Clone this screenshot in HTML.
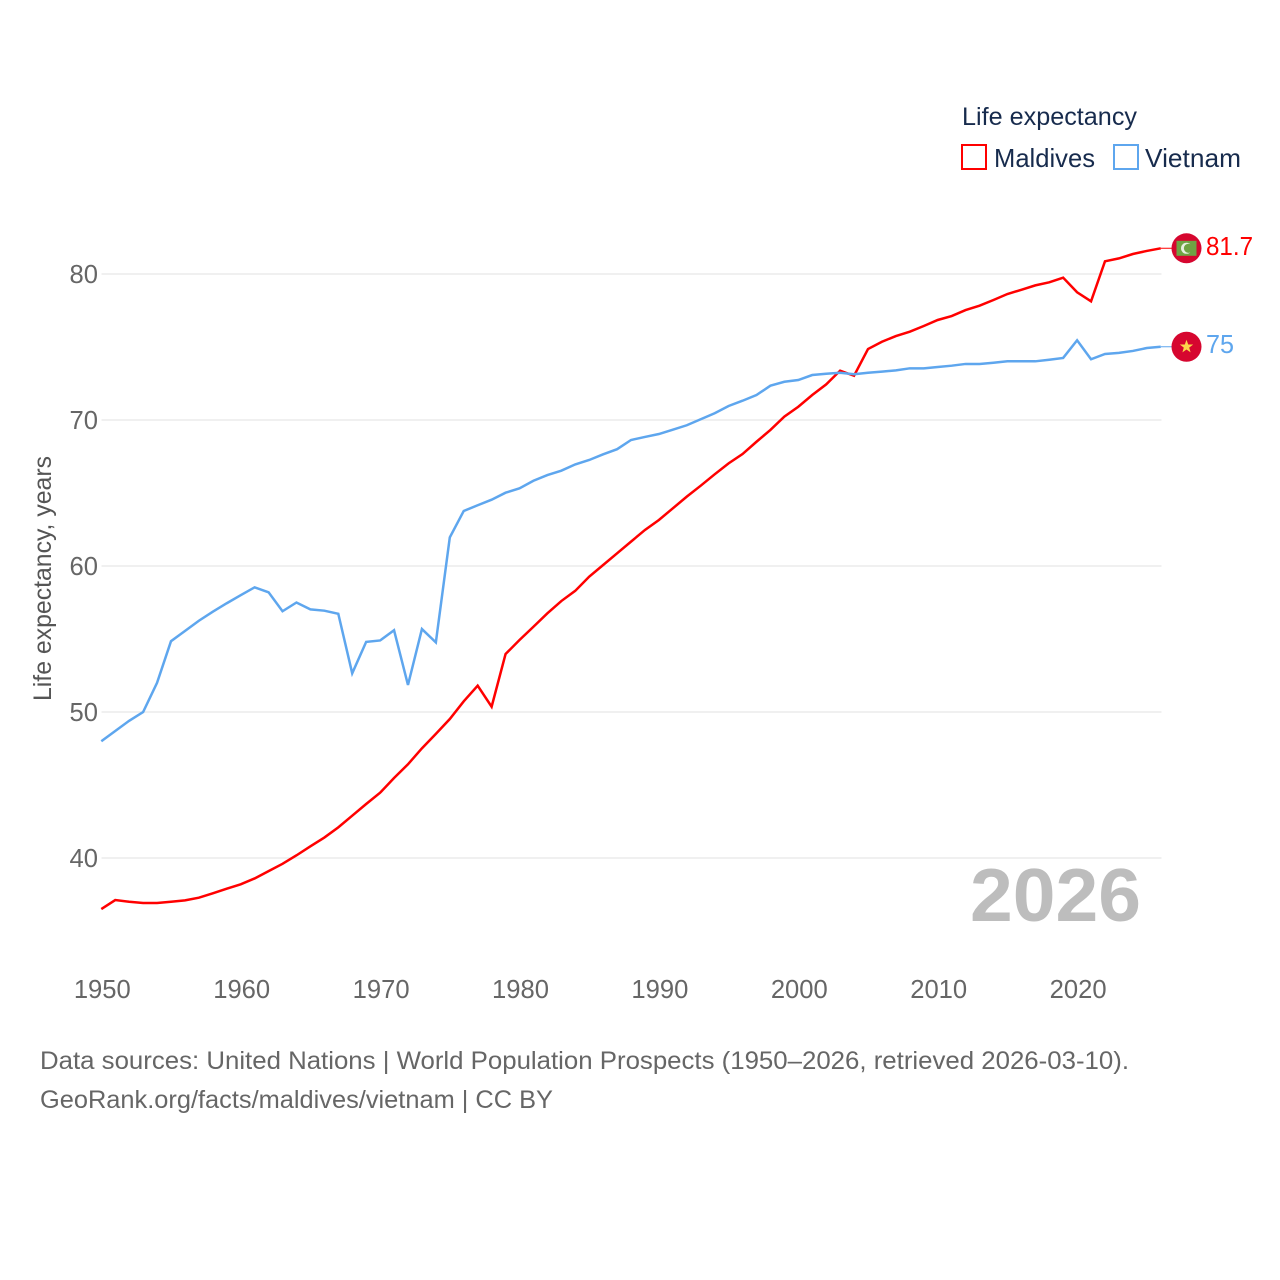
<!DOCTYPE html>
<html lang="en">
<head>
<meta charset="utf-8">
<title>Life expectancy: Maldives vs Vietnam</title>
<style>
html,body{margin:0;padding:0;background:#fff;}
svg{display:block;}
text{font-family:"Liberation Sans",sans-serif;}
</style>
</head>
<body>
<svg id="chart" xmlns="http://www.w3.org/2000/svg" width="1280" height="1280" viewBox="0 0 1280 1280">
  <rect x="0" y="0" width="1280" height="1280" fill="#ffffff"/>
  <g id="grid"></g>
  <g id="yticks"></g>
  <g id="xticks"></g>
  <text transform="translate(51 578.5) rotate(-90)" text-anchor="middle" font-size="25" fill="#555555" textLength="245" lengthAdjust="spacingAndGlyphs">Life expectancy, years</text>
  <text x="970" y="921" font-size="75" font-weight="700" fill="#bdbdbd" textLength="171" lengthAdjust="spacingAndGlyphs">2026</text>
  <g id="series"></g>
  <g id="markers"></g>
  <g>
    <text x="962" y="125" font-size="25" fill="#172b4d" textLength="175" lengthAdjust="spacingAndGlyphs">Life expectancy</text>
    <rect x="962" y="145" width="24" height="24" fill="#ffffff" stroke="#ff0000" stroke-width="2"/>
    <text x="994" y="167" font-size="26" fill="#172b4d" textLength="101" lengthAdjust="spacingAndGlyphs">Maldives</text>
    <rect x="1114" y="145" width="24" height="24" fill="#ffffff" stroke="#5ea6ee" stroke-width="2"/>
    <text x="1145" y="167" font-size="26" fill="#172b4d" textLength="96" lengthAdjust="spacingAndGlyphs">Vietnam</text>
  </g>
  <g>
    <text x="40" y="1069" font-size="25" fill="#666666" textLength="1089" lengthAdjust="spacingAndGlyphs">Data sources: United Nations | World Population Prospects (1950–2026, retrieved 2026-03-10).</text>
    <text x="40" y="1108" font-size="25" fill="#666666" textLength="513" lengthAdjust="spacingAndGlyphs">GeoRank.org/facts/maldives/vietnam | CC BY</text>
  </g>
</svg>
<script>
const startYear = 1950;
const yTickValues = [40, 50, 60, 70, 80];
const xTickValues = [1950, 1960, 1970, 1980, 1990, 2000, 2010, 2020];
const maldivesValues = [
  36.5, 37.12, 37.0, 36.92, 36.92, 37.0, 37.1, 37.28, 37.58, 37.9,
  38.2, 38.6, 39.1, 39.6, 40.18, 40.8, 41.4, 42.1, 42.9, 43.7,
  44.47, 45.48, 46.42, 47.51, 48.5, 49.52, 50.73, 51.8, 50.36, 53.97,
  54.93, 55.84, 56.76, 57.6, 58.3, 59.27, 60.07, 60.87, 61.67, 62.47,
  63.15, 63.95, 64.75, 65.5, 66.28, 67.03, 67.67, 68.51, 69.32, 70.23,
  70.91, 71.71, 72.44, 73.38, 73.03, 74.86, 75.36, 75.75, 76.05, 76.44,
  76.85, 77.12, 77.53, 77.83, 78.22, 78.63, 78.92, 79.22, 79.43, 79.75,
  78.75, 78.13, 80.87, 81.07, 81.37, 81.58, 81.76
];
const vietnamValues = [
  48.0, 48.7, 49.4, 50.0, 52.0, 54.85, 55.55, 56.25, 56.87, 57.45,
  58.0, 58.54, 58.2, 56.9, 57.5, 57.03, 56.94, 56.73, 52.65, 54.8,
  54.9, 55.6, 51.85, 55.68, 54.77, 61.96, 63.77, 64.16, 64.54, 65.02,
  65.32, 65.84, 66.23, 66.53, 66.96, 67.26, 67.65, 68.0, 68.63, 68.84,
  69.04, 69.34, 69.64, 70.05, 70.46, 70.96, 71.32, 71.71, 72.35, 72.62,
  72.74, 73.08, 73.17, 73.24, 73.13, 73.24, 73.31, 73.4, 73.54, 73.54,
  73.63, 73.72, 73.84, 73.84, 73.92, 74.02, 74.02, 74.02, 74.13, 74.25,
  75.46, 74.16, 74.52, 74.6, 74.73, 74.93, 75.02
];
const maldivesLabel = "81.7";
const vietnamLabel = "75";

const NS = "http://www.w3.org/2000/svg";
const xScale = function (year) { return 101.3 + (year - 1950) * 13.94; };
const yScale = function (value) { return 858 - (value - 40) * 14.6; };

function make(tag, parentId, attrs, content) {
  const el = document.createElementNS(NS, tag);
  for (const key in attrs) { el.setAttribute(key, attrs[key]); }
  if (content !== undefined) { el.textContent = content; }
  document.getElementById(parentId).appendChild(el);
  return el;
}

yTickValues.forEach(function (v) {
  const grid = make("line", "grid", {x1: 101.5, x2: 1161.5, y1: yScale(v), y2: yScale(v), stroke: "#e8e8e8", "stroke-width": 1.2});
  
  
  const label = make("text", "yticks", {x: 98, y: yScale(v) + 9, "text-anchor": "end", "font-size": 25.6, fill: "#666666"}, String(v));
  
  
});

xTickValues.forEach(function (year) {
  const label = make("text", "xticks", {x: xScale(year) + 1, y: 998, "text-anchor": "middle", "font-size": 25.6, fill: "#666666"}, String(year));
  
  
});

function linePoints(values) {
  return values.map(function (v, i) {
    return xScale(startYear + i).toFixed(2) + "," + yScale(v).toFixed(2);
  }).join(" ");
}

const maldivesLine = make("polyline", "series", {points: linePoints(maldivesValues), fill: "none", stroke: "#ff0000", "stroke-width": 2.5, "stroke-linejoin": "miter"});


const vietnamLine = make("polyline", "series", {points: linePoints(vietnamValues), fill: "none", stroke: "#5ea6ee", "stroke-width": 2.5, "stroke-linejoin": "miter"});



const lastX = xScale(startYear + maldivesValues.length - 1);
const markerX = 1186.5;
const maldivesY = yScale(maldivesValues[maldivesValues.length - 1]);
const vietnamY = yScale(vietnamValues[vietnamValues.length - 1]);

const maldivesLead = make("line", "markers", {x1: lastX, x2: markerX, y1: maldivesY, y2: maldivesY, stroke: "#ff0000", "stroke-width": 1});


const vietnamLead = make("line", "markers", {x1: lastX, x2: markerX, y1: vietnamY, y2: vietnamY, stroke: "#5ea6ee", "stroke-width": 1});



const maldivesDisc = make("circle", "markers", {cx: markerX, cy: maldivesY, r: 15, fill: "#d6062f"});


const maldivesField = make("rect", "markers", {x: markerX - 10, y: maldivesY - 7.5, width: 20, height: 15, fill: "#6fa344"});


const moonOuter = make("circle", "markers", {cx: markerX, cy: maldivesY, r: 5.5, fill: "#e8efe0"});


const moonInner = make("circle", "markers", {cx: markerX + 2, cy: maldivesY, r: 4.6, fill: "#6fa344"});



const vietnamDisc = make("circle", "markers", {cx: markerX, cy: vietnamY, r: 15, fill: "#d6062f"});


const star = make("polygon", "markers", {points: "0,-7 1.7,-2.2 6.7,-2.2 2.7,0.9 4.1,5.7 0,2.8 -4.1,5.7 -2.7,0.9 -6.7,-2.2 -1.7,-2.2", fill: "#fcd64b", transform: "translate(" + markerX + " " + vietnamY + ")"});



const maldivesValueLabel = make("text", "markers", {x: 1206, y: maldivesY + 6.5, "font-size": 26, fill: "#ff0000", textLength: 47, lengthAdjust: "spacingAndGlyphs"}, maldivesLabel);


const vietnamValueLabel = make("text", "markers", {x: 1206, y: vietnamY + 6.5, "font-size": 26, fill: "#5ea6ee", textLength: 28, lengthAdjust: "spacingAndGlyphs"}, vietnamLabel);


</script>
</body>
</html>
